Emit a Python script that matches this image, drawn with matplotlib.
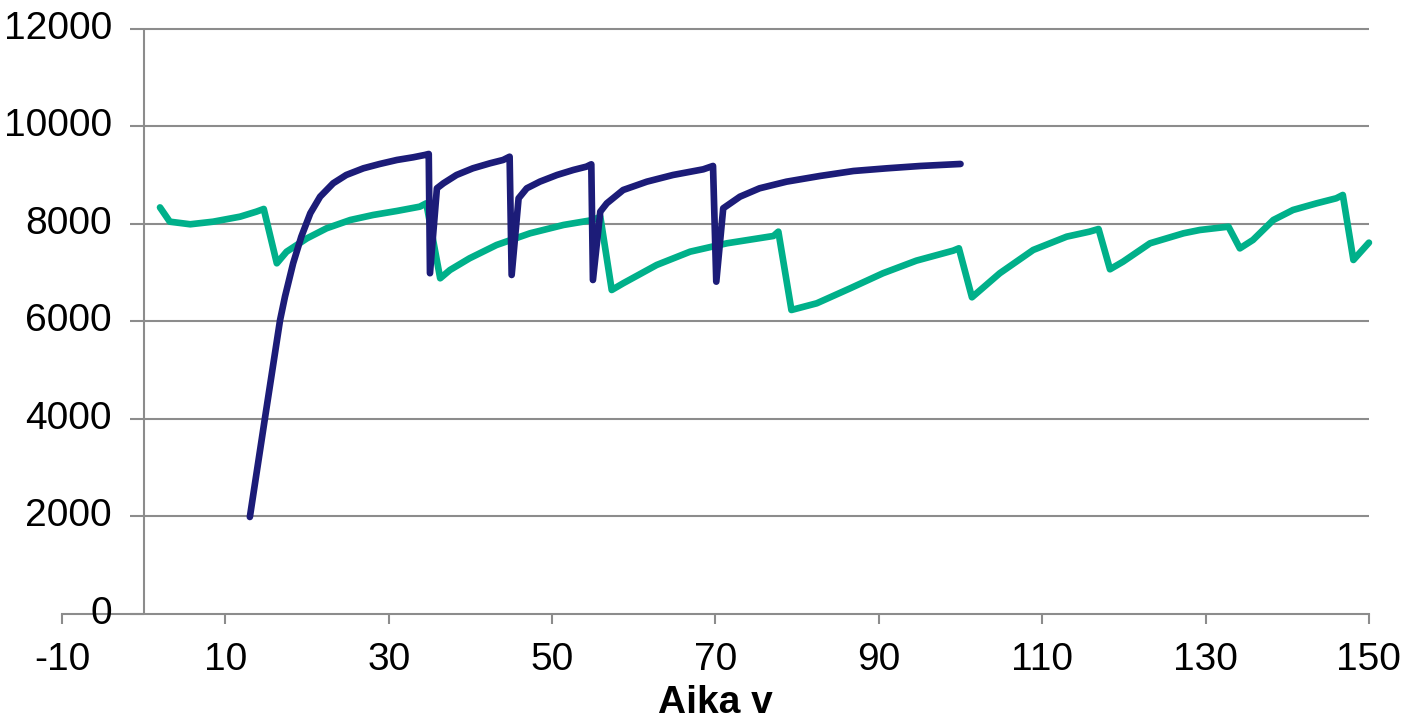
import numpy as np
import matplotlib.pyplot as plt

plt.rcParams['font.family'] = ['Liberation Sans', 'DejaVu Sans']

# navy series
navy_x = [13.0, 14.85, 16.7, 17.3, 18.3, 19.3, 20.4, 21.6, 23.2, 24.8, 26.9,
          28.9, 31.0, 33.0, 34.4, 34.9,
          35.05, 35.9, 36.7, 38.3, 40.3, 42.4, 44.0, 44.8,
          45.05, 45.9, 46.9, 48.5, 50.6, 52.6, 54.2, 54.8,
          55.0, 55.9, 56.7, 58.7, 61.6, 64.8, 68.5, 69.7,
          70.1, 70.95, 73.0, 75.4, 78.7, 82.8, 86.9, 91.0, 95.1, 100.0]
navy_y = [1990, 4020, 6030, 6510, 7194, 7740, 8220, 8560, 8835, 9005, 9142,
          9231, 9313, 9368, 9415, 9436,
          6990, 8732, 8835, 9005, 9142, 9245, 9313, 9380,
          6954, 8527, 8732, 8868, 9005, 9108, 9176, 9224,
          6851, 8253, 8424, 8697, 8868, 9005, 9121, 9190,
          6817, 8322, 8560, 8732, 8868, 8985, 9087, 9142, 9190, 9231]

# green series
green_x = [2.0, 3.2, 5.7, 8.5, 11.8, 13.8, 14.7,
           16.3, 17.5, 20.0, 22.4, 25.3, 28.1, 31.0, 33.8, 34.6,
           36.3, 37.5, 39.9, 43.2, 47.3, 51.4, 55.0, 55.9,
           57.3, 58.7, 62.8, 66.9, 71.4, 77.1, 77.7,
           79.3, 82.4, 86.5, 90.5, 94.6, 99.1, 99.8,
           101.4, 104.8, 108.9, 113.0, 115.8, 116.9,
           118.3, 119.9, 123.2, 127.3, 129.3, 132.8,
           134.2, 135.8, 138.3, 140.7, 143.6, 146.0, 146.8,
           148.1, 150.0]
green_y = [8340, 8047, 7994, 8047, 8150, 8253, 8308,
           7194, 7432, 7706, 7912, 8082, 8185, 8267, 8355, 8424,
           6886, 7056, 7296, 7569, 7809, 7980, 8082, 8150,
           6646, 6783, 7159, 7432, 7604, 7754, 7843,
           6236, 6373, 6681, 6989, 7248, 7453, 7501,
           6496, 6989, 7467, 7740, 7843, 7897,
           7071, 7227, 7604, 7809, 7877, 7945,
           7500, 7672, 8082, 8287, 8424, 8527, 8595,
           7262, 7617]

x_ticks = [-10, 10, 30, 50, 70, 90, 110, 130, 150]
y_ticks = [0, 2000, 4000, 6000, 8000, 10000, 12000]

gray = '#8c8c8c'
fs = 28

fig = plt.figure(figsize=(14.12, 7.28), dpi=100)
ax = fig.add_axes([0.0439, 0.1566, 0.9256, 0.8036])

ax.set_xlim(-10, 150)
ax.set_ylim(0, 12000)

for s in ['left', 'right', 'top']:
    ax.spines[s].set_visible(False)
ax.spines['bottom'].set_color(gray)
ax.spines['bottom'].set_linewidth(1.5)

# gridlines + y axis drawn at x=0
ax.hlines(y_ticks[1:], -1.7, 150, color=gray, lw=1.5, zorder=1, clip_on=False)
ax.hlines([0], -1.7, 0, color=gray, lw=1.5, zorder=1, clip_on=False)
ax.vlines([0], 0, 12000, color=gray, lw=1.5, zorder=1)
ax.set_yticks([])
for v in y_ticks:
    ax.text(-3.9, v, str(v), ha='right', va='center', fontsize=fs)

ax.set_xticks(x_ticks)
ax.set_xticklabels([str(t) for t in x_ticks], fontsize=fs)
ax.tick_params(axis='x', direction='out', length=7, width=1.5, color=gray, pad=13)

ax.plot(navy_x, navy_y, color='#1c1c78', lw=4.8, solid_joinstyle='round',
        solid_capstyle='round', zorder=3)
ax.plot(green_x, green_y, color='#00b08a', lw=4.8, solid_joinstyle='round',
        solid_capstyle='round', zorder=2, clip_on=False)

fig.text(0.5069, 0.02, 'Aika v', ha='center', va='baseline', fontsize=fs,
         fontweight='bold')

fig.savefig('out.png', dpi=100)
